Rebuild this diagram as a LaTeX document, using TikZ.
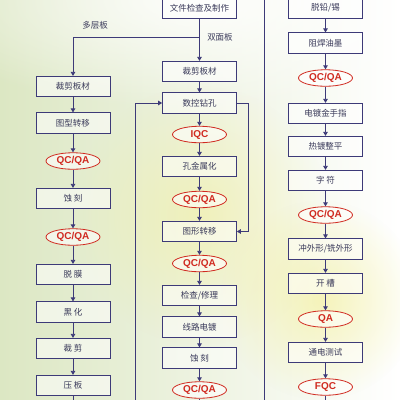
\documentclass[tikz,border=0pt]{standalone}
\usepackage{fontspec}
\setmainfont{Noto Sans CJK SC}
\newfontfamily\qcfont{Liberation Sans}
\usetikzlibrary{arrows.meta,fadings,shapes.geometric}
\definecolor{lnc}{HTML}{3D3A78}
\definecolor{txc}{HTML}{3A3A5A}
\definecolor{rdc}{HTML}{D02A20}
\definecolor{bgl}{HTML}{DCE7C3}
\definecolor{bgm}{HTML}{F4F7E6}
\definecolor{glow}{HTML}{F3EE8C}
\tikzfading[name=softglow, inner color=transparent!0, outer color=transparent!100]
\begin{document}
\begin{tikzpicture}[x=1pt,y=-1pt,
 box/.style={draw=lnc, line width=0.7pt, fill=white, fill opacity=0.55, text opacity=1, minimum width=74pt, minimum height=20.5pt, inner sep=0pt, font=\fontsize{8.5}{10}\selectfont, text=txc},
 qc/.style={ellipse, draw=rdc, line width=0.8pt, fill=white, fill opacity=0.6, text opacity=1, minimum width=54pt, minimum height=16.5pt, inner sep=0pt, font=\qcfont\bfseries\fontsize{10}{12}\selectfont, text=rdc},
 arr/.style={draw=lnc, line width=0.8pt, -{Triangle[length=4pt,width=4.5pt]}},
 wire/.style={draw=lnc, line width=0.8pt},
 lbl/.style={font=\fontsize{8.5}{10}\selectfont, text=txc}]
\useasboundingbox (0,0) rectangle (400,400);
\clip (0,0) rectangle (400,400);
% background
\shade[left color=bgl, middle color=bgm, right color=white] (0,0) rectangle (400,400);
\fill[white, opacity=0.9, path fading=softglow] (200,0) ellipse (300 and 110);
\fill[glow, opacity=0.45, path fading=softglow] (200,215) circle (130);
\fill[glow, opacity=0.55, path fading=softglow] (320,300) circle (100);
% left column
\node[box] (L1) at (73,86.5) {裁剪板材};
\node[box] (L2) at (73,123) {图型转移};
\node[qc]  (L3) at (73,161) {QC/QA};
\node[box] (L4) at (73,198.5) {蚀\ 刻};
\node[qc]  (L5) at (73,237) {QC/QA};
\node[box] (L6) at (73,274.5) {脱\ 膜};
\node[box] (L7) at (73,312) {黑\ 化};
\node[box] (L8) at (73,348.5) {裁\ 剪};
\node[box] (L9) at (73,385.5) {压\ 板};
% center column
\node[box] (C0) at (199.5,8) {文件检查及制作};
\node[box] (C1) at (199.5,71.5) {裁剪板材};
\node[box] (C2) at (199.5,103) {数控钻孔};
\node[qc]  (C3) at (199.5,134.5) {IQC};
\node[box] (C4) at (199.5,166.5) {孔金属化};
\node[qc]  (C5) at (199.5,199.5) {QC/QA};
\node[box] (C6) at (199.5,231.5) {图形转移};
\node[qc]  (C7) at (199.5,263.5) {QC/QA};
\node[box] (C8) at (199.5,295.5) {检查/修理};
\node[box] (C9) at (199.5,327) {线路电镀};
\node[box] (C10) at (199.5,358) {蚀\ 刻};
\node[qc]  (C11) at (199.5,390) {QC/QA};
% right column
\node[box] (R0) at (325.5,8) {脱铅/锡};
\node[box] (R1) at (325.5,43) {阻焊油墨};
\node[qc]  (R2) at (325.5,78) {QC/QA};
\node[box] (R3) at (325.5,113.5) {电镀金手指};
\node[box] (R4) at (325.5,146.5) {热镀整平};
\node[box] (R5) at (325.5,180.5) {字\ 符};
\node[qc]  (R6) at (325.5,215) {QC/QA};
\node[box] (R7) at (325.5,249) {冲外形/铣外形};
\node[box] (R8) at (325.5,283.5) {开\ 槽};
\node[qc]  (R9) at (325.5,319) {QA};
\node[box] (R10) at (325.5,352.5) {通电测试};
\node[qc]  (R11) at (325.5,387) {FQC};
% labels
\node[lbl] (t1) at (95,25) {多层板};
\node[lbl] (t2) at (220,37) {双面板};
% coordinates
\coordinate (br) at (199.5,37);
\coordinate (Lend) at (73,405);
\coordinate (Cend) at (199.5,405);
\coordinate (Rend) at (325.5,405);
\coordinate (lp) at (135,405);
\coordinate (rl) at (248,103);
\coordinate (vt) at (264,-5);
\coordinate (vb) at (264,405);
% connectors
\foreach \a/\b in {L1/L2,L2/L3,L3/L4,L4/L5,L5/L6,L6/L7,L7/L8,L8/L9,
  C0/C1,C1/C2,C2/C3,C3/C4,C4/C5,C5/C6,C6/C7,C7/C8,C8/C9,C9/C10,C10/C11,
  R0/R1,R1/R2,R2/R3,R3/R4,R4/R5,R5/R6,R6/R7,R7/R8,R8/R9,R9/R10,R10/R11}
  \draw[arr] (\a) -- (\b);
\draw[arr] (br) -| (L1.north);
\draw[wire] (L9) -- (Lend);
\draw[wire] (C11) -- (Cend);
\draw[wire] (R11) -- (Rend);
\draw[arr] (lp) |- (C2.west);
\draw[arr] (C2.east) -- (rl) |- (C6.east);
\draw[wire] (vt) -- (vb);
\end{tikzpicture}
\end{document}
